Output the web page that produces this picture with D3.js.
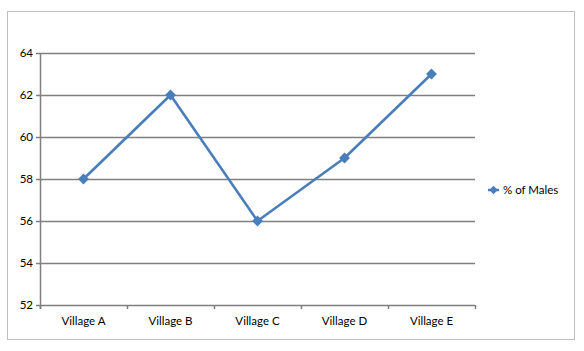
<!DOCTYPE html>
<html><head><meta charset="utf-8">
<script src="https://cdn.jsdelivr.net/npm/d3@7"></script>
<style>body{margin:0;background:#fff}svg{display:block}text{font-family:Lato,"Open Sans",sans-serif;font-size:11.5px;fill:#000}</style>
</head><body>
<svg id="c" width="584" height="351"></svg>
<script>
const categories = ["Village A","Village B","Village C","Village D","Village E"];
const values = [58,62,56,59,63];
const yTicks = [52,54,56,58,60,62,64];
const seriesName = "% of Males";

const svg = d3.select("#c");
svg.append("rect").attr("x",7.5).attr("y",11.5).attr("width",567).attr("height",328)
  .attr("fill","#fff").attr("stroke","#bfbfbf");
const L=40,R=475,T=53,B=305;
const x = d3.scaleBand().domain(categories).range([L,R]);
const y = d3.scaleLinear().domain([52,64]).range([B,T]);
const grid="#7f7f7f";
svg.append("g").selectAll("line").data(yTicks).join("line")
  .attr("x1",L-4).attr("x2",R).attr("y1",d=>y(d)+0.5).attr("y2",d=>y(d)+0.5)
  .attr("stroke",grid).attr("stroke-width",1.5);
svg.append("g").selectAll("text").data(yTicks).join("text")
  .attr("x",L-7).attr("y",d=>y(d)).attr("dy","0.35em").attr("text-anchor","end").text(d=>d);
svg.append("line").attr("x1",L+0.5).attr("x2",L+0.5).attr("y1",T).attr("y2",B+4).attr("stroke",grid).attr("stroke-width",1.5);
const tickX = categories.map(c=>x(c)).concat([R]);
svg.append("g").selectAll("line").data(tickX).join("line")
  .attr("x1",d=>d+0.5).attr("x2",d=>d+0.5).attr("y1",B).attr("y2",B+4).attr("stroke",grid).attr("stroke-width",1.5);
svg.append("g").selectAll("text").data(categories).join("text")
  .attr("x",d=>x(d)+x.bandwidth()/2).attr("y",B+16).attr("dy","0.35em").attr("text-anchor","middle").text(d=>d);
const col="#4a7ebb";
const line=d3.line().x((d,i)=>x(categories[i])+x.bandwidth()/2).y(d=>y(d));
svg.append("path").attr("d",line(values)).attr("fill","none").attr("stroke",col).attr("stroke-width",2.6).attr("stroke-linejoin","round");
const diamond=d3.symbol().type(d3.symbolDiamond2).size(75);
svg.append("g").selectAll("path").data(values).join("path")
  .attr("transform",(d,i)=>`translate(${x(categories[i])+x.bandwidth()/2},${y(d)})`)
  .attr("d",diamond).attr("fill",col);
const ly=190;
svg.append("line").attr("x1",488).attr("x2",499).attr("y1",ly).attr("y2",ly).attr("stroke",col).attr("stroke-width",2.5);
svg.append("path").attr("transform",`translate(493.5,${ly})`).attr("d",d3.symbol().type(d3.symbolDiamond2).size(45)).attr("fill",col);
svg.append("text").attr("x",503).attr("y",ly).attr("dy","0.35em").text(seriesName);
</script>
</body></html>
